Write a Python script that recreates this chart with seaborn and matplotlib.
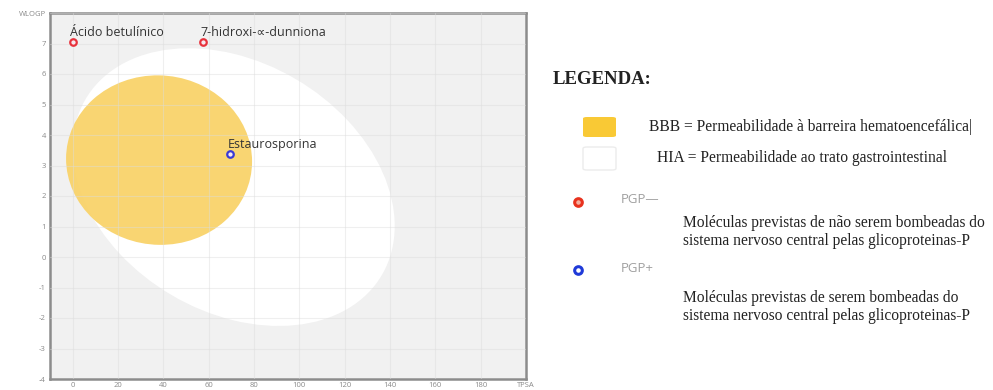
import matplotlib
matplotlib.use("Agg")
import matplotlib.pyplot as plt
from matplotlib.patches import Ellipse, FancyBboxPatch
import seaborn as sns
import pandas as pd

# ---- data ----
compounds = ["Ácido betulínico", "7-hidroxi-∝-dunniona", "Estaurosporina"]
tpsa = [0.0, 57.5, 69.5]
wlogp = [7.05, 7.05, 3.37]
pgp = ["PGP-", "PGP-", "PGP+"]

# BOILED-Egg ellipses: center x, center y, width, height, angle (deg)
hia_ellipse = [71.051, 2.292, 142.081, 8.740, -1.031325]
bbb_ellipse = [38.117, 3.177, 82.061, 5.557, -0.066]

x_ticks = [0, 20, 40, 60, 80, 100, 120, 140, 160, 180, 200]
x_tick_labels = ["0", "20", "40", "60", "80", "100", "120", "140", "160", "180", "TPSA"]
y_ticks = [-4, -3, -2, -1, 0, 1, 2, 3, 4, 5, 6, 7, 8]
y_tick_labels = ["-4", "-3", "-2", "-1", "0", "1", "2", "3", "4", "5", "6", "7", "WLOGP"]

legend_title = "LEGENDA:"
legend_bbb = "BBB = Permeabilidade à barreira hematoencefálica|"
legend_hia = "HIA = Permeabilidade ao trato gastrointestinal"
legend_pgp_neg = ["PGP—", "Moléculas previstas de não serem bombeadas do\nsistema nervoso central pelas glicoproteinas-P"]
legend_pgp_pos = ["PGP+", "Moléculas previstas de serem bombeadas do\nsistema nervoso central pelas glicoproteinas-P"]

df = pd.DataFrame({"TPSA": tpsa, "WLOGP": wlogp, "PGP": pgp, "name": compounds})

sns.set_theme(style="whitegrid")
plt.rcParams["font.family"] = ["Open Sans", "DejaVu Sans"]

W, H = 993, 390
fig = plt.figure(figsize=(W / 100, H / 100), dpi=100)
ax = fig.add_axes([50 / W, 11 / H, (526 - 50) / W, (379 - 13) / H])
ax.set_facecolor("#f1f1f1")

ax.add_patch(Ellipse((hia_ellipse[0], hia_ellipse[1]), hia_ellipse[2], hia_ellipse[3],
                     angle=hia_ellipse[4], facecolor="#ffffff", edgecolor="none", zorder=1))
ax.add_patch(Ellipse((bbb_ellipse[0], bbb_ellipse[1]), bbb_ellipse[2], bbb_ellipse[3],
                     angle=bbb_ellipse[4], facecolor="#f9d36a", edgecolor="none", alpha=0.95, zorder=1.1))

palette = {"PGP-": "#e8323c", "PGP+": "#3a3ad6"}
for key, col in palette.items():
    sub = df[df["PGP"] == key]
    sns.scatterplot(data=sub, x="TPSA", y="WLOGP", ax=ax, marker="o", s=22,
                    facecolor="#f6e8ef", edgecolor=col, linewidth=1.6, zorder=4, legend=False)

for n, xv, yv in zip(compounds, tpsa, wlogp):
    ax.annotate(n, (xv, yv), xytext=(-2, 2.5), textcoords="offset points",
                ha="left", va="bottom", fontsize=9, color="#333333", zorder=5,
                family=["Open Sans", "DejaVu Sans"])

ax.set_xlim(-10, 200)
ax.set_ylim(-4, 8)
ax.set_xticks(x_ticks)
ax.set_xticklabels(x_tick_labels)
ax.set_yticks(y_ticks)
ax.set_yticklabels(y_tick_labels)
ax.tick_params(axis="both", length=0, labelsize=5.5, labelcolor="#8a8a8a", pad=3)
ax.tick_params(axis="x", pad=2)
ax.set_xlabel("")
ax.set_ylabel("")
ax.set_axisbelow(False)
ax.grid(True, color="#dcdcdc", linewidth=0.8, alpha=0.45, zorder=2)
for s in ax.spines.values():
    s.set_visible(True)
    s.set_color("#8c8c8c")
    s.set_linewidth(1.8)

# ---- legend panel (figure coords in pixels) ----
def fx(px):
    return px / W

def fy(py):
    return 1 - py / H

serif = ["Liberation Serif", "DejaVu Serif"]
fig.text(fx(553), fy(80), legend_title, fontsize=13.5, fontweight="bold",
         family=serif, va="center", ha="left", color="#222222")

fig.patches.append(FancyBboxPatch((fx(583), fy(137)), fx(616) - fx(583), fy(117) - fy(137),
                                  boxstyle="round,pad=0.0,rounding_size=0.004",
                                  transform=fig.transFigure, facecolor="#f9c935",
                                  edgecolor="none"))
fig.patches.append(FancyBboxPatch((fx(583), fy(170)), fx(616) - fx(583), fy(147) - fy(170),
                                  boxstyle="round,pad=0.0,rounding_size=0.004",
                                  transform=fig.transFigure, facecolor="#ffffff",
                                  edgecolor="#ececec", linewidth=1))
fig.text(fx(649), fy(127), legend_bbb, fontsize=11.2, family=serif, va="center",
         ha="left", color="#222222")
fig.text(fx(657), fy(158), legend_hia, fontsize=11.2, family=serif, va="center",
         ha="left", color="#222222")

fig.lines.append(plt.Line2D([fx(578)], [fy(202)], marker="o", markersize=5.5,
                            markerfacecolor="#f4b0a0", markeredgecolor="#e8321e",
                            markeredgewidth=2.2, transform=fig.transFigure))
fig.lines.append(plt.Line2D([fx(578)], [fy(270)], marker="o", markersize=5.5,
                            markerfacecolor="#ffffff", markeredgecolor="#1f3ad8",
                            markeredgewidth=2.2, transform=fig.transFigure))
fig.text(fx(621), fy(200), legend_pgp_neg[0], fontsize=9.5, color="#a0a0a0",
         va="center", ha="left", family=["Open Sans", "DejaVu Sans"])
fig.text(fx(621), fy(268), legend_pgp_pos[0], fontsize=9.5, color="#a0a0a0",
         va="center", ha="left", family=["Open Sans", "DejaVu Sans"])
fig.text(fx(683), fy(232), legend_pgp_neg[1], fontsize=11.2, family=serif,
         va="center", ha="left", color="#222222", linespacing=1.1)
fig.text(fx(683), fy(307), legend_pgp_pos[1], fontsize=11.2, family=serif,
         va="center", ha="left", color="#222222", linespacing=1.1)

fig.savefig("out.png", dpi=100)
